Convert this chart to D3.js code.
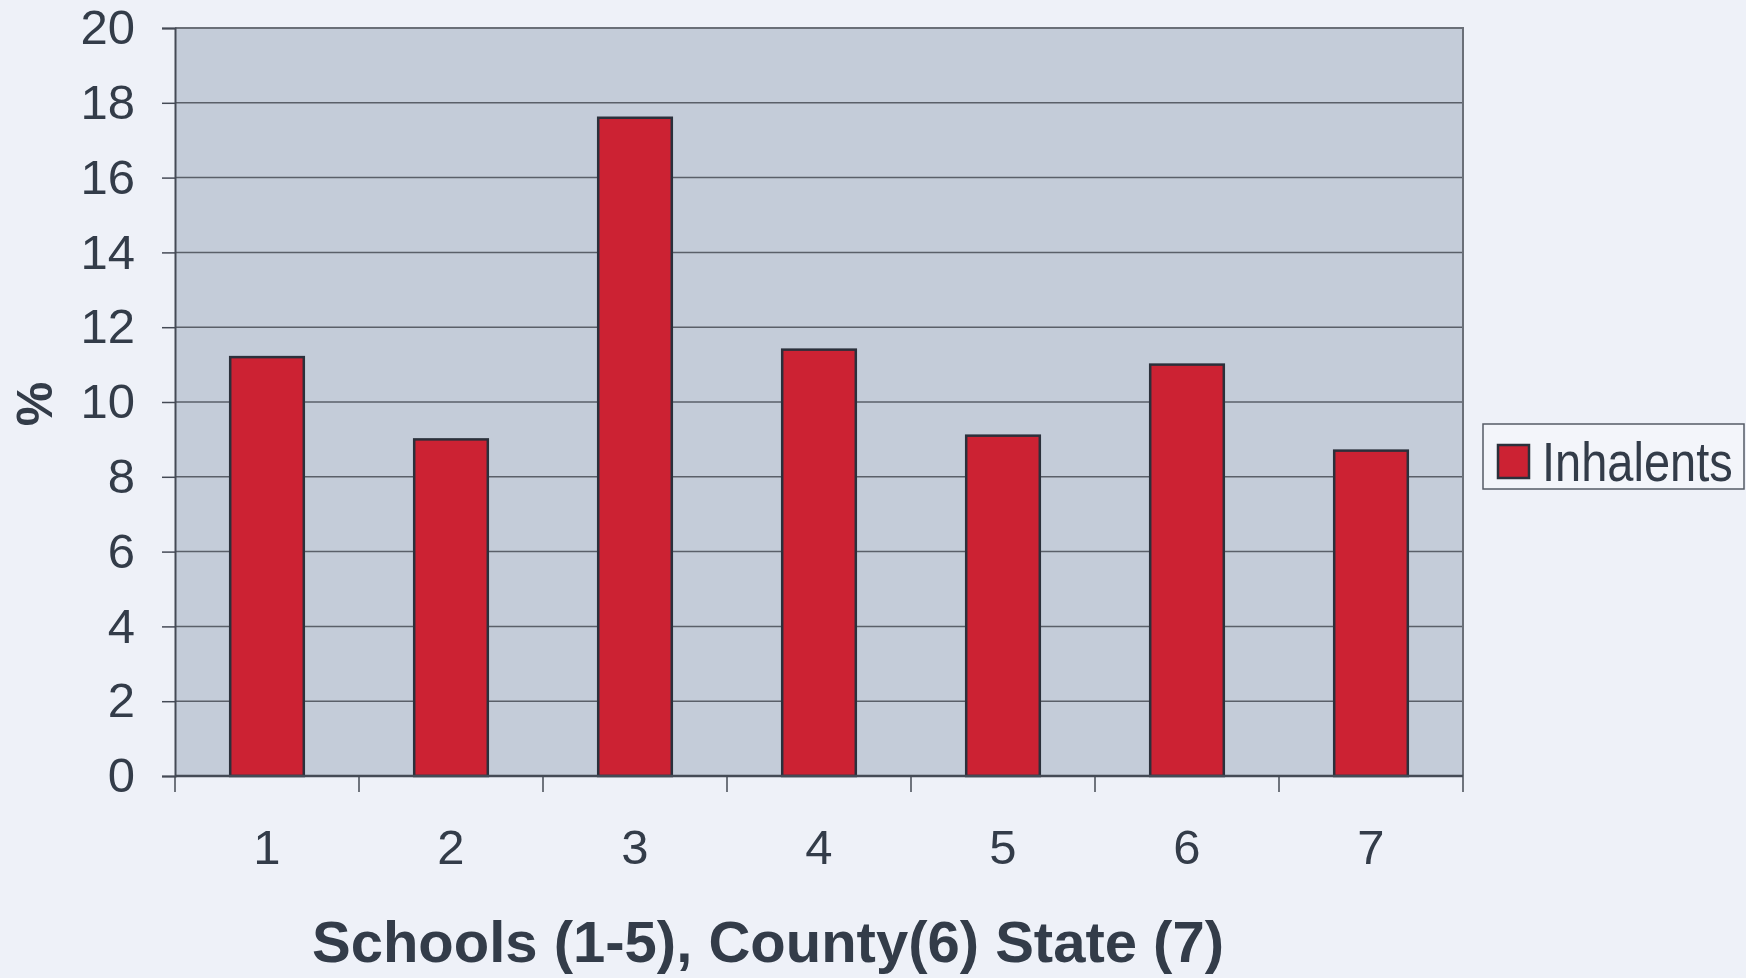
<!DOCTYPE html>
<html>
<head>
<meta charset="utf-8">
<script src="https://cdn.jsdelivr.net/npm/d3@7"></script>
<style>
  html, body { margin: 0; padding: 0; background: #eef1f8; }
  svg { display: block; }
</style>
</head>
<body>
<svg id="chart" width="1746" height="978"></svg>
<script>
const categories = ["1", "2", "3", "4", "5", "6", "7"];
const inhalents = [11.2, 9.0, 17.6, 11.4, 9.1, 11.0, 8.7];
const yTicks = [0, 2, 4, 6, 8, 10, 12, 14, 16, 18, 20];
const seriesName = "Inhalents";
const xTitle = "Schools (1-5), County(6) State (7)";
const yTitle = "%";

(function () {
const svg = d3.select("#chart");
const pLeft = 175, pRight = 1463, pTop = 28, pBottom = 776;
const textColor = "#333c49";

const x = d3.scaleBand().domain(categories).range([pLeft, pRight]).paddingInner(0.6).paddingOuter(0.3);
const y = d3.scaleLinear().domain([0, 20]).range([pBottom, pTop]);

// plot background
svg.append("rect").attr("x", pLeft).attr("y", pTop).attr("width", pRight - pLeft).attr("height", pBottom - pTop)
  .attr("fill", "#c4ccd9");

// gridlines
svg.append("g").selectAll("line").data(yTicks.slice(1)).join("line")
  .attr("x1", pLeft).attr("x2", pRight).attr("y1", d => y(d)).attr("y2", d => y(d))
  .attr("stroke", "#5a5f69").attr("stroke-width", 1.5);

// bars
svg.append("g").selectAll("rect").data(inhalents).join("rect")
  .attr("x", (d, i) => x(categories[i]))
  .attr("y", d => y(d))
  .attr("width", x.bandwidth())
  .attr("height", d => y(0) - y(d))
  .attr("fill", "#cc2233")
  .attr("stroke", "#2b303b").attr("stroke-width", 2.5);

// plot border (right & top)
svg.append("path").attr("d", `M${pLeft},${pTop}H${pRight}V${pBottom}`)
  .attr("fill", "none").attr("stroke", "#6a6f78").attr("stroke-width", 2);

// y axis
const yAxis = svg.append("g").attr("transform", `translate(${pLeft},0)`)
  .call(d3.axisLeft(y).tickValues(yTicks).tickSize(13).tickPadding(27).tickFormat(d3.format("d")));
yAxis.select(".domain").attr("stroke", "#444a55").attr("stroke-width", 2);
yAxis.selectAll(".tick line").attr("stroke", "#444a55").attr("stroke-width", 1.5);
yAxis.selectAll(".tick text").attr("fill", textColor)
  .style("font-family", "Liberation Sans, Arial, sans-serif").style("font-size", "49px");

// x axis
const step = x.step();
const bounds = categories.map(c => x(c) + x.bandwidth() / 2 - step / 2);
bounds.push(bounds[bounds.length - 1] + step);
const xg = svg.append("g");
xg.append("line").attr("x1", pLeft).attr("x2", pRight).attr("y1", pBottom).attr("y2", pBottom)
  .attr("stroke", "#444a55").attr("stroke-width", 2.5);
xg.selectAll("line.tk").data(bounds).join("line").attr("class", "tk")
  .attr("x1", d => d).attr("x2", d => d).attr("y1", pBottom).attr("y2", pBottom + 16)
  .attr("stroke", "#444a55").attr("stroke-width", 1.5);
xg.selectAll("text").data(categories).join("text")
  .attr("x", d => x(d) + x.bandwidth() / 2).attr("y", 864)
  .attr("text-anchor", "middle").attr("fill", textColor)
  .style("font-family", "Liberation Sans, Arial, sans-serif").style("font-size", "49px")
  .text(d => d);

// axis titles
svg.append("text").attr("x", 768).attr("y", 962).attr("text-anchor", "middle")
  .attr("fill", textColor).style("font-family", "Liberation Sans, Arial, sans-serif")
  .style("font-size", "58px").style("font-weight", "bold").text(xTitle);
svg.append("text").attr("transform", "translate(52,404) rotate(-90)").attr("text-anchor", "middle")
  .attr("fill", textColor).style("font-family", "Liberation Sans, Arial, sans-serif")
  .style("font-size", "50px").style("font-weight", "bold").text(yTitle);

// legend
const lg = svg.append("g");
lg.append("rect").attr("x", 1483).attr("y", 424).attr("width", 261).attr("height", 65)
  .attr("fill", "#f3f5fa").attr("stroke", "#555b66").attr("stroke-width", 1.5);
lg.append("rect").attr("x", 1498).attr("y", 445).attr("width", 31).attr("height", 33)
  .attr("fill", "#cc2233").attr("stroke", "#2b303b").attr("stroke-width", 2.5);
lg.append("text").attr("transform", "translate(1542,481) scale(1,1.18)").attr("fill", textColor)
  .style("font-family", "Liberation Sans, Arial, sans-serif").style("font-size", "47px")
  .text(seriesName);
})();
</script>
</body>
</html>
